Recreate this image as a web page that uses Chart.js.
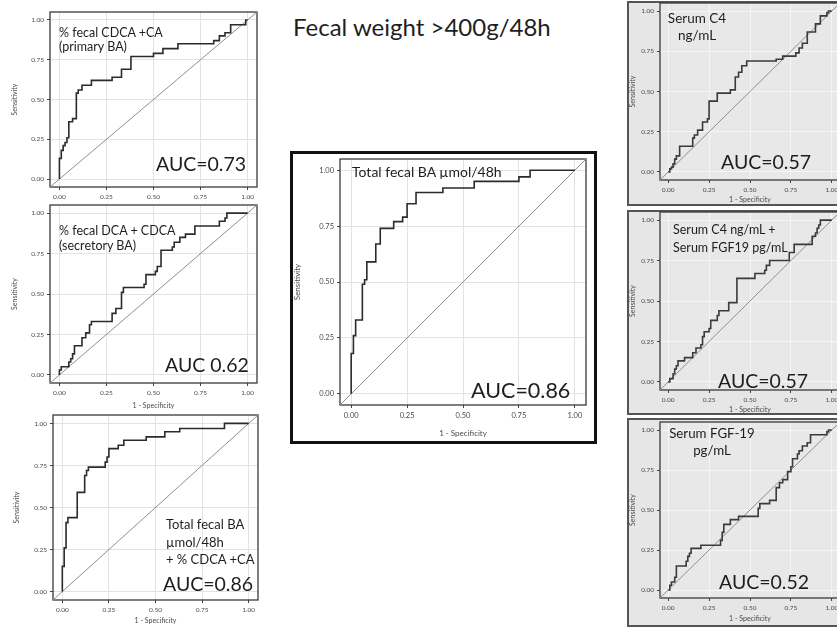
<!DOCTYPE html>
<html>
<head>
<meta charset="utf-8">
<script src="https://cdn.jsdelivr.net/npm/chart.js@4"></script>
<style>
  body { margin: 0; width: 837px; height: 628px; overflow: hidden; background: #fff; position: relative; font-family: Lato, sans-serif; color: #1e1e1e; }
  canvas, .note, .frame { position: absolute; }
  .frame { box-sizing: border-box; }
  .note { white-space: nowrap; }
</style>
</head>
<body>
<div class="frame" style="left:290px;top:151px;width:307px;height:293px;border:3px solid #111"></div>
<div class="frame" style="left:627px;top:1px;width:230px;height:205px;border:2px solid #555;background:#e6e6e6"></div>
<div class="frame" style="left:627px;top:210px;width:230px;height:205px;border:2px solid #555;background:#e6e6e6"></div>
<div class="frame" style="left:627px;top:418px;width:230px;height:209px;border:2px solid #555;background:#e6e6e6"></div>
<script>
// axis ticks shared by every panel
const tickVals = [0, 0.25, 0.5, 0.75, 1];
const tickLabels = ['0.00', '0.25', '0.50', '0.75', '1.00'];
const axisRange = [-0.05, 1.05];

// % fecal CDCA + CA (primary BA)
const primaryFpr  = [0, 0, 0.01, 0.02, 0.03, 0.04, 0.05, 0.07, 0.09, 0.10, 0.12, 0.17, 0.28, 0.33, 0.38, 0.50, 0.55, 0.63, 0.82, 0.85, 0.88, 0.91, 0.99, 1];
const primarySens = [0, 0.13, 0.18, 0.21, 0.23, 0.26, 0.36, 0.38, 0.54, 0.56, 0.59, 0.62, 0.64, 0.69, 0.77, 0.79, 0.82, 0.85, 0.87, 0.90, 0.92, 0.97, 1, 1];

// % fecal DCA + CDCA (secretory BA)
const secretoryFpr  = [0, 0, 0.01, 0.05, 0.06, 0.07, 0.08, 0.12, 0.14, 0.16, 0.17, 0.28, 0.30, 0.33, 0.34, 0.45, 0.46, 0.51, 0.52, 0.54, 0.60, 0.61, 0.64, 0.67, 0.72, 0.85, 0.88, 0.89, 1];
const secretorySens = [0, 0.03, 0.05, 0.08, 0.10, 0.13, 0.18, 0.23, 0.26, 0.31, 0.33, 0.38, 0.41, 0.51, 0.54, 0.56, 0.62, 0.64, 0.67, 0.77, 0.79, 0.82, 0.85, 0.87, 0.92, 0.95, 0.97, 1, 1];

// total fecal BA + % CDCA + CA
const comboFpr  = [0, 0, 0.01, 0.02, 0.03, 0.08, 0.12, 0.13, 0.14, 0.23, 0.24, 0.25, 0.30, 0.33, 0.45, 0.55, 0.63, 0.87, 1];
const comboSens = [0, 0.15, 0.26, 0.41, 0.44, 0.59, 0.69, 0.72, 0.74, 0.77, 0.80, 0.85, 0.87, 0.90, 0.92, 0.95, 0.97, 1, 1];

// total fecal BA umol/48h
const totalFpr  = [0, 0, 0.01, 0.02, 0.05, 0.06, 0.07, 0.11, 0.13, 0.19, 0.23, 0.25, 0.29, 0.41, 0.55, 0.75, 0.80, 1];
const totalSens = [0, 0.18, 0.26, 0.33, 0.49, 0.51, 0.59, 0.67, 0.74, 0.77, 0.79, 0.85, 0.90, 0.92, 0.95, 0.97, 1, 1];

// serum C4
const c4Fpr  = [0, 0.01, 0.02, 0.03, 0.04, 0.05, 0.07, 0.15, 0.16, 0.18, 0.21, 0.24, 0.25, 0.30, 0.38, 0.41, 0.43, 0.45, 0.48, 0.66, 0.70, 0.78, 0.80, 0.82, 0.85, 0.90, 0.93, 0.97, 0.98, 1];
const c4Sens = [0, 0.02, 0.03, 0.05, 0.08, 0.10, 0.16, 0.21, 0.23, 0.26, 0.31, 0.33, 0.44, 0.49, 0.51, 0.59, 0.62, 0.66, 0.69, 0.70, 0.72, 0.74, 0.77, 0.80, 0.87, 0.92, 0.97, 0.99, 1, 1];

// serum C4 + FGF19
const c4FgfFpr  = [0, 0.01, 0.03, 0.04, 0.05, 0.06, 0.10, 0.15, 0.17, 0.20, 0.21, 0.22, 0.25, 0.26, 0.30, 0.31, 0.37, 0.42, 0.53, 0.59, 0.60, 0.62, 0.74, 0.77, 0.88, 0.90, 0.91, 0.92, 0.93, 1];
const c4FgfSens = [0, 0.02, 0.05, 0.08, 0.10, 0.13, 0.15, 0.18, 0.21, 0.23, 0.28, 0.31, 0.33, 0.38, 0.41, 0.44, 0.49, 0.64, 0.67, 0.69, 0.72, 0.75, 0.80, 0.85, 0.90, 0.92, 0.95, 0.97, 1, 1];

// serum FGF-19
const fgfFpr  = [0, 0.01, 0.02, 0.04, 0.05, 0.11, 0.12, 0.13, 0.14, 0.20, 0.32, 0.33, 0.34, 0.38, 0.43, 0.55, 0.56, 0.62, 0.66, 0.68, 0.70, 0.73, 0.75, 0.76, 0.79, 0.80, 0.82, 0.85, 0.87, 0.97, 0.98, 1];
const fgfSens = [0, 0.03, 0.05, 0.08, 0.15, 0.18, 0.21, 0.23, 0.26, 0.28, 0.31, 0.36, 0.41, 0.44, 0.46, 0.51, 0.54, 0.56, 0.64, 0.67, 0.69, 0.74, 0.77, 0.82, 0.85, 0.87, 0.90, 0.92, 0.97, 0.99, 1, 1];

// plot background + full frame round the plot area
const boxPlugin = {
  id: 'box',
  beforeDraw(chart, args, o) {
    if (!o.fill) return;
    const a = chart.chartArea;
    chart.ctx.save();
    chart.ctx.fillStyle = o.fill;
    chart.ctx.fillRect(a.left, a.top, a.width, a.height);
    chart.ctx.restore();
  },
  beforeDatasetsDraw(chart, args, o) {
    const a = chart.chartArea, ctx = chart.ctx;
    ctx.save();
    ctx.strokeStyle = o.color;
    ctx.lineWidth = o.width;
    ctx.strokeRect(a.left, a.top, a.width, a.height);
    ctx.restore();
  }
};

function rocChart(fpr, sens, p) {
  const lh = p.axisFont * 1.2;
  const left = Math.round(p.sx - lh / 2);
  const top = p.box[1] - 8;
  const right = p.box[2] + 12;
  const bottom = p.specY ? Math.round(p.specY + lh / 2) : p.box[3] + 18;
  const cv = document.createElement('canvas');
  cv.width = right - left;
  cv.height = bottom - top;
  cv.style.left = left + 'px';
  cv.style.top = top + 'px';
  document.body.appendChild(cv);

  const tickFont = { family: 'Lato', size: p.tickFont };
  const titleFont = { family: 'Lato', size: p.axisFont };
  const grid = { color: p.gridColor, tickColor: '#444', tickLength: 3, lineWidth: 1 };

  new Chart(cv, {
    type: 'line',
    data: {
      datasets: [
        {
          data: fpr.map((x, i) => ({ x: x, y: sens[i] })),
          borderColor: p.curveColor, borderWidth: 1.6, pointRadius: 0, stepped: 'before'
        },
        {
          data: [{ x: axisRange[0], y: axisRange[0] }, { x: axisRange[1], y: axisRange[1] }],
          borderColor: '#8f8f8f', borderWidth: 1, pointRadius: 0
        }
      ]
    },
    options: {
      responsive: false,
      animation: false,
      layout: { padding: { left: 0, top: p.box[1] - top, right: right - p.box[2], bottom: 0 } },
      scales: {
        x: {
          type: 'linear', min: axisRange[0], max: axisRange[1],
          afterBuildTicks: s => { s.ticks = tickVals.map(v => ({ value: v })); },
          afterFit: s => { s.height = bottom - p.box[3]; },
          ticks: { callback: (v, i) => tickLabels[i], font: tickFont, color: '#4a4a4a', padding: 3, maxRotation: 0, autoSkip: false },
          grid: grid,
          border: { display: false },
          title: { display: !!p.specY, text: '1 - Specificity', font: titleFont, color: '#4a4a4a', padding: 0 }
        },
        y: {
          type: 'linear', min: axisRange[0], max: axisRange[1],
          afterBuildTicks: s => { s.ticks = tickVals.map(v => ({ value: v })); },
          afterFit: s => { s.width = p.box[0] - left; },
          ticks: { callback: (v, i) => tickLabels[i], font: tickFont, color: '#4a4a4a', padding: 3, autoSkip: false },
          grid: grid,
          border: { display: false },
          title: { display: true, text: 'Sensitivity', font: titleFont, color: '#4a4a4a', padding: 0 }
        }
      },
      plugins: {
        legend: { display: false },
        tooltip: { enabled: false },
        box: { fill: p.plotFill, color: '#3a3a3a', width: 1.3 }
      }
    },
    plugins: [boxPlugin]
  });
}

const white = { gridColor: '#e3e3e3', plotFill: null, curveColor: '#2b2b2b', tickFont: 6.5, axisFont: 7 };
const gray = { gridColor: '#f6f6f6', plotFill: '#e8e8e8', curveColor: '#3a3a3a', tickFont: 6.5, axisFont: 7 };

rocChart(primaryFpr, primarySens, Object.assign({}, white, { box: [50, 12, 257, 187], sx: 15, specY: null }));
rocChart(secretoryFpr, secretorySens, Object.assign({}, white, { box: [50, 205, 257, 383], sx: 15, specY: 406 }));
rocChart(comboFpr, comboSens, Object.assign({}, white, { box: [53, 415, 258, 600], sx: 17, specY: 621 }));
rocChart(totalFpr, totalSens, Object.assign({}, white, { box: [340, 159, 586, 405], sx: 298, specY: 433, tickFont: 7.5, axisFont: 8 }));
rocChart(c4Fpr, c4Sens, Object.assign({}, gray, { box: [660, 3, 840, 180], sx: 633, specY: 200 }));
rocChart(c4FgfFpr, c4FgfSens, Object.assign({}, gray, { box: [660, 212, 840, 390], sx: 633, specY: 410 }));
rocChart(fgfFpr, fgfSens, Object.assign({}, gray, { box: [660, 422, 840, 598], sx: 633, specY: 619 }));

// text written on the figure
const notes = [
  { lines: ['Fecal weight >400g/48h'], x: 293, cy: 27, size: 24, lh: 28 },
  { lines: ['% fecal CDCA +CA', '(primary BA)'], x: 59, cy: 33, size: 12.5, lh: 14.5 },
  { lines: ['AUC=0.73'], x: 156, cy: 164, size: 19.5, lh: 22 },
  { lines: ['% fecal DCA + CDCA', '(secretory BA)'], x: 59, cy: 230, size: 12.5, lh: 15 },
  { lines: ['AUC 0.62'], x: 165, cy: 365, size: 19.5, lh: 22 },
  { lines: ['Total fecal BA', 'µmol/48h', '+ % CDCA +CA'], x: 166, cy: 525, size: 13, lh: 17.5 },
  { lines: ['AUC=0.86'], x: 163, cy: 584, size: 19.5, lh: 22 },
  { lines: ['Total fecal BA µmol/48h'], x: 352, cy: 172, size: 14, lh: 16 },
  { lines: ['AUC=0.86'], x: 471, cy: 390, size: 21.5, lh: 24 },
  { lines: ['Serum C4', 'ng/mL'], cx: 697, cy: 18, size: 13.5, lh: 17 },
  { lines: ['AUC=0.57'], x: 721, cy: 162, size: 19.5, lh: 22 },
  { lines: ['Serum C4 ng/mL +', 'Serum FGF19 pg/mL'], x: 673, cy: 230, size: 12.5, lh: 18 },
  { lines: ['AUC=0.57'], x: 718, cy: 381, size: 19.5, lh: 22 },
  { lines: ['Serum FGF-19', 'pg/mL'], cx: 712, cy: 433, size: 13.3, lh: 17 },
  { lines: ['AUC=0.52'], x: 719, cy: 582, size: 19.5, lh: 22 }
];
notes.forEach(n => {
  const d = document.createElement('div');
  d.className = 'note';
  n.lines.forEach((t, i) => {
    if (i) d.appendChild(document.createElement('br'));
    d.appendChild(document.createTextNode(t));
  });
  d.style.fontSize = n.size + 'px';
  d.style.lineHeight = n.lh + 'px';
  d.style.top = (n.cy - n.lh / 2) + 'px';
  if (n.cx) {
    d.style.left = (n.cx - 100) + 'px';
    d.style.width = '200px';
    d.style.textAlign = 'center';
  } else {
    d.style.left = n.x + 'px';
  }
  document.body.appendChild(d);
});
</script>
</body>
</html>
